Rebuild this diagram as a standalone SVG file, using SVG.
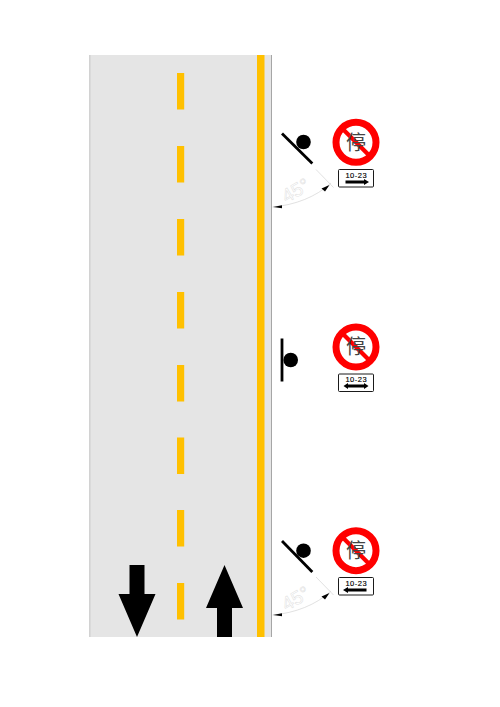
<svg xmlns="http://www.w3.org/2000/svg" width="500" height="707" viewBox="0 0 500 707">
<style>
.dash{fill:#ffc000}
.ring{fill:#fff;stroke:#f00;stroke-width:7}
.slash{stroke:#f00;stroke-width:4.2;fill:none}
.zi{font-family:"Noto Sans CJK SC","Noto Sans CJK JP",sans-serif;font-size:20px;fill:#444;text-anchor:middle}
.plate{fill:#fff;stroke:#000;stroke-width:.9}
.num{font-family:"Liberation Sans",Arial,sans-serif;font-size:7.500px;fill:#000;stroke:#000;stroke-width:.15;text-anchor:middle;letter-spacing:.5px}
.bar{stroke:#000;stroke-width:2.800;fill:none}
.thin{stroke:#d4d4d4;stroke-width:.7;fill:none}
.deg{font-family:"Liberation Sans",Arial,sans-serif;font-size:19px;fill:none;stroke:#dcdcdc;stroke-width:.45;text-anchor:middle}
</style>
<g id="road">
<rect x="89" y="55" width="183" height="582" fill="#e5e5e5"/>
<rect x="89" y="55" width="1.600" height="582" fill="#d2d2d2"/>
<rect x="271" y="55" width="1" height="582" fill="#a6a6a6"/>
<rect x="257" y="55" width="7.500" height="582" fill="#ffc000"/>
<rect class="dash" x="177" y="73" width="7.200" height="36.500"/>
<rect class="dash" x="177" y="146" width="7.200" height="36.500"/>
<rect class="dash" x="177" y="219" width="7.200" height="36.500"/>
<rect class="dash" x="177" y="292" width="7.200" height="36.500"/>
<rect class="dash" x="177" y="365" width="7.200" height="36.500"/>
<rect class="dash" x="177" y="437.500" width="7.200" height="36.500"/>
<rect class="dash" x="177" y="510" width="7.200" height="36.500"/>
<rect class="dash" x="177" y="583" width="7.200" height="36.500"/>
<path id="arrow-down" d="M129.500 565H144.500V594H155.500L137 637L118.500 594H129.500Z" fill="#000"/>
<path id="arrow-up" d="M217 637V608H206L224.500 565L243 608H232V637Z" fill="#000"/>
</g>
<g id="connectors">
<path class="thin" d="M316 169.500L333.500 187.500"/>
<path class="thin" d="M272.500 207C295 205 316 197 331 183"/>
<path d="M273 207L282 205.300V208.300Z" fill="#000"/>
<path d="M329.500 185L325 191.500L321.500 188.500Z" fill="#000"/>
<path class="thin" d="M316 577L333.500 595"/>
<path class="thin" d="M272.500 615C295 613 316 605 331 591"/>
<path d="M273 615L282 613.300V616.300Z" fill="#000"/>
<path d="M329.500 593L325 599.500L321.500 596.500Z" fill="#000"/>
</g>
<g id="angle-top"><text class="deg" transform="translate(299 196) rotate(-30)">45°</text></g>
<g id="angle-bottom"><text class="deg" transform="translate(299 604) rotate(-30)">45°</text></g>
<g id="viewer-top">
<path class="bar" d="M282 133.500L312.300 163.500"/>
<circle cx="303.500" cy="142" r="7.300"/>
</g>
<g id="viewer-middle">
<path class="bar" d="M282 338.500V381.500"/>
<circle cx="290.700" cy="360" r="7.300"/>
</g>
<g id="viewer-bottom">
<path class="bar" d="M282 541L312.300 572"/>
<circle cx="303.500" cy="550.700" r="7.300"/>
</g>
<g id="sign-top">
<circle class="ring" cx="356" cy="142.300" r="20"/>
<path class="slash" d="M342 128.300L370 156.300"/>
<text class="zi" x="356" y="149.500">停</text>
<rect class="plate" x="338.500" y="169.500" width="35" height="17.500" rx="1"/>
<text class="num" x="356.300" y="177.500">10-23</text>
<path d="M345.500 180.500H364V179L369 182L364 185V183.500H345.500Z"/>
</g>
<g id="sign-middle">
<circle class="ring" cx="356" cy="347" r="20"/>
<path class="slash" d="M342 333L370 361"/>
<text class="zi" x="356" y="354.200">停</text>
<rect class="plate" x="338.500" y="374" width="35" height="17.500" rx="1"/>
<text class="num" x="356.300" y="382">10-23</text>
<path d="M343.500 386L348 383V384.500H364V383L368.500 386L364 389V387.500H348V389Z"/>
</g>
<g id="sign-bottom">
<circle class="ring" cx="356" cy="550.700" r="20"/>
<path class="slash" d="M342 536.700L370 564.700"/>
<text class="zi" x="356" y="557.900">停</text>
<rect class="plate" x="338.500" y="577.500" width="35" height="17.500" rx="1"/>
<text class="num" x="356.300" y="585.500">10-23</text>
<path d="M366.500 588.500H348V587L343 590L348 593V591.500H366.500Z"/>
</g>
</svg>
